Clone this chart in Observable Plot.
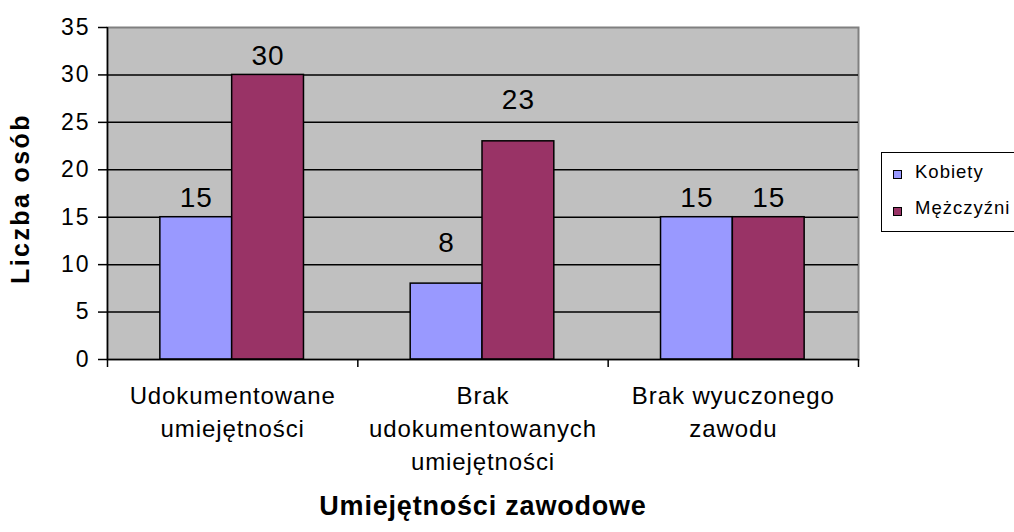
<!DOCTYPE html>
<html><head><meta charset="utf-8">
<script src="https://cdn.jsdelivr.net/npm/d3@7"></script>
<script src="https://cdn.jsdelivr.net/npm/@observablehq/plot@0.6"></script>
<style>
html,body{margin:0;padding:0;background:#fff;overflow:hidden;width:1014px;height:532px;}
#wrap{position:relative;width:1014px;height:532px;overflow:hidden;font-family:"Liberation Sans",Arial,sans-serif;color:#000;}
#wrap svg{position:absolute;left:0;top:0;}
#legend{position:absolute;left:881px;top:152px;width:170px;height:80px;border:1.5px solid #000;background:#fff;box-sizing:border-box;}
.sw{position:absolute;left:11px;width:7px;height:7px;border:1px solid #000;}
.lt{position:absolute;left:33px;font-size:18.5px;line-height:18.5px;white-space:nowrap;letter-spacing:1px;}
</style></head><body><div id="wrap"></div>
<script>
const categories = ["Udokumentowane\numiejętności", "Brak\nudokumentowanych\numiejętności", "Brak wyuczonego\nzawodu"];
const seriesNames = ["Kobiety", "Mężczyźni"];
const kobiety = [15, 8, 15];
const mezczyzni = [30, 23, 15];
const yTicks = [0, 5, 10, 15, 20, 25, 30, 35];
const colors = ["#9999FF", "#993366"];
const xTitle = "Umiejętności zawodowe";
const yTitle = "Liczba osób";

const barOffset = 53 / 251, barWidth = 72 / 251;
const rows = [];
categories.forEach((c, i) => {
  [kobiety, mezczyzni].forEach((vals, s) => rows.push({cat: i, s, series: seriesNames[s], value: vals[i]}));
});
const cx = d => d.cat + barOffset + (d.s + 0.5) * barWidth;

function withSpacing(mark, spacing) {
  const render = mark.render;
  mark.render = function (...args) {
    const g = render.apply(this, args);
    if (g) g.style.letterSpacing = spacing;
    return g;
  };
  return mark;
}

const plot = Plot.plot({
  width: 1014, height: 532,
  marginLeft: 107, marginRight: 156, marginTop: 27, marginBottom: 173,
  style: {fontFamily: '"Liberation Sans", Arial, sans-serif', fontSize: "22px", background: "transparent", color: "#000", overflow: "visible"},
  x: {domain: [0, 3], axis: null},
  y: {domain: [0, 35], axis: null},
  color: {domain: seriesNames, range: colors},
  marks: [
    Plot.frame({fill: "#C0C0C0", stroke: "#808080", strokeWidth: 2}),
    Plot.ruleY(yTicks.slice(1, -1), {stroke: "#000", strokeWidth: 1.5}),
    Plot.rectY(rows, {
      x1: d => d.cat + barOffset + d.s * barWidth,
      x2: d => d.cat + barOffset + (d.s + 1) * barWidth,
      y1: 0, y2: "value", fill: "series", stroke: "#000", strokeWidth: 1.5
    }),
    Plot.ruleX([0], {stroke: "#000", strokeWidth: 1.5}),
    Plot.ruleY([0], {stroke: "#000", strokeWidth: 1.5}),
    withSpacing(Plot.axisY({ticks: yTicks, tickSize: 9, tickPadding: 8, fontSize: 23, strokeWidth: 1.5, label: null}), "2px"),
    Plot.axisX({ticks: [0, 1, 2, 3], tickSize: 8, tickFormat: () => "", strokeWidth: 1.5, label: null}),
    withSpacing(Plot.text(rows.filter(d => d.cat !== 1), {x: cx, y: "value", text: d => String(d.value), dy: -19, fontSize: 28}), "1px"),
    withSpacing(Plot.text(rows.filter(d => d.cat === 1), {x: cx, y: "value", text: d => String(d.value), dy: -41, fontSize: 28}), "1px"),
    withSpacing(Plot.text(categories, {x: (d, i) => i + 0.5, frameAnchor: "bottom", lineAnchor: "top", dy: 21, fontSize: 24, lineHeight: 1.375}), "0.9px"),
    withSpacing(Plot.text([yTitle], {frameAnchor: "left", textAnchor: "middle", rotate: -90, dx: -87, dy: 5, fontSize: 25, fontWeight: "bold"}), "2.4px"),
    withSpacing(Plot.text([xTitle], {frameAnchor: "bottom", dy: 155, fontSize: 27, fontWeight: "bold"}), "0.8px")
  ]
});
const wrap = document.getElementById("wrap");
wrap.appendChild(plot);
d3.select(plot).selectAll('g[aria-label="y-axis tick label"]').style("letter-spacing", "2px");

const legend = document.createElement("div");
legend.id = "legend";
seriesNames.forEach((name, i) => {
  const sw = document.createElement("div");
  sw.className = "sw";
  sw.style.top = (17 + i * 37) + "px";
  sw.style.background = colors[i];
  const t = document.createElement("div");
  t.className = "lt";
  t.style.top = (10 + i * 36) + "px";
  t.textContent = name;
  legend.appendChild(sw);
  legend.appendChild(t);
});
wrap.appendChild(legend);
</script></body></html>
